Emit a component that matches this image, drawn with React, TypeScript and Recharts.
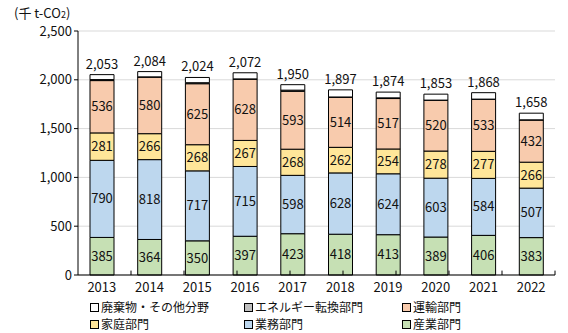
import React from "react";
import { BarChart, Bar, XAxis, YAxis, CartesianGrid, LabelList, ReferenceLine } from "recharts";

const years = ["2013", "2014", "2015", "2016", "2017", "2018", "2019", "2020", "2021", "2022"];
const industry = [385, 364, 350, 397, 423, 418, 413, 389, 406, 383];
const business = [790, 818, 717, 715, 598, 628, 624, 603, 584, 507];
const household = [281, 266, 268, 267, 268, 262, 254, 278, 277, 266];
const transport = [536, 580, 625, 628, 593, 514, 517, 520, 533, 432];
const energy = [10, 2, 10, 2, 12, 2, 7, 2, 2, 2];
const totals = [2053, 2084, 2024, 2072, 1950, 1897, 1874, 1853, 1868, 1658];
const yTicks = [0, 500, 1000, 1500, 2000, 2500];
const boundaries = [1, 2, 3, 4, 5, 6, 7, 8, 9, 10];

const data = years.map((y, i) => ({
  year: y,
  industry: industry[i],
  business: business[i],
  household: household[i],
  transport: transport[i],
  energy: energy[i],
  waste: totals[i] - industry[i] - business[i] - household[i] - transport[i] - energy[i],
  total: totals[i],
}));

const FONT = "'Noto Sans CJK JP', sans-serif";

const series = [
  { key: "industry", name: "産業部門", color: "#C6E0B4", label: true },
  { key: "business", name: "業務部門", color: "#BDD7EE", label: true },
  { key: "household", name: "家庭部門", color: "#FFE699", label: true },
  { key: "transport", name: "運輸部門", color: "#F8CBAD", label: true },
  { key: "energy", name: "エネルギー転換部門", color: "#BFBFBF", label: false },
  { key: "waste", name: "廃棄物・その他分野", color: "#FFFFFF", label: false },
];

const legendRows = [
  [
    { name: "廃棄物・その他分野", color: "#FFFFFF" },
    { name: "エネルギー転換部門", color: "#BFBFBF" },
    { name: "運輸部門", color: "#F8CBAD" },
  ],
  [
    { name: "家庭部門", color: "#FFE699" },
    { name: "業務部門", color: "#BDD7EE" },
    { name: "産業部門", color: "#C6E0B4" },
  ],
];
const legendX = [90, 244, 402];

export default function App() {
  return (
    <div style={{ position: "absolute", left: 0, top: 0, width: 568, height: 333, background: "#fff", fontFamily: FONT }}>
      <div style={{ position: "absolute", left: 14, top: 5, fontSize: 13, lineHeight: "15px", color: "#111" }}>
        (千 t-CO<span style={{ fontSize: 9 }}>2</span>)
      </div>
      <BarChart
        width={568}
        height={333}
        data={data}
        margin={{ top: 31, right: 13, left: 0, bottom: 28 }}
        barSize={24}
      >
        <CartesianGrid vertical={false} stroke="#d9d9d9" />
        <XAxis
          dataKey="year"
          axisLine={{ stroke: "#000" }}
          tickLine={false}
          tick={{ fill: "#111", fontSize: 13, fontFamily: FONT }}
          height={30}
        />
        <XAxis xAxisId="n" type="number" domain={[0, 10]} hide />
        <YAxis
          domain={[0, 2500]}
          ticks={yTicks}
          width={78}
          axisLine={{ stroke: "#000" }}
          tickLine={{ stroke: "#000" }}
          tickSize={4}
          tickFormatter={(v) => v.toLocaleString("en-US")}
          tick={{ fill: "#111", fontSize: 13, fontFamily: FONT }}
        />
        {series.map((s, idx) => (
          <Bar
            key={s.key}
            dataKey={s.key}
            name={s.name}
            stackId="a"
            fill={s.color}
            stroke="#000"
            strokeWidth={1}
            isAnimationActive={false}
          >
            {s.label && (
              <LabelList
                dataKey={s.key}
                position="center"
                fill="#111"
                style={{ fontSize: 13, fontFamily: FONT }}
              />
            )}
            {idx === series.length - 1 && (
              <LabelList
                dataKey="total"
                position="top"
                offset={6}
                fill="#111"
                formatter={(v: number) => v.toLocaleString("en-US")}
                style={{ fontSize: 13, fontFamily: FONT }}
              />
            )}
          </Bar>
        ))}
        {boundaries.map((b) => (
          <ReferenceLine
            key={b}
            xAxisId="n"
            segment={[{ x: b, y: 0 }, { x: b, y: 45 }]}
            stroke="#000"
            ifOverflow="visible"
          />
        ))}
      </BarChart>
      {legendRows.map((row, r) =>
        row.map((item, c) => (
          <div
            key={item.name}
            style={{
              position: "absolute",
              left: legendX[c],
              top: 300 + r * 17,
              fontSize: 12,
              lineHeight: "14px",
              color: "#111",
              display: "flex",
              alignItems: "center",
              whiteSpace: "nowrap",
            }}
          >
            <span
              style={{
                display: "inline-block",
                width: 7,
                height: 7,
                border: "1px solid #000",
                background: item.color,
                marginRight: 2,
              }}
            />
            {item.name}
          </div>
        ))
      )}
    </div>
  );
}
